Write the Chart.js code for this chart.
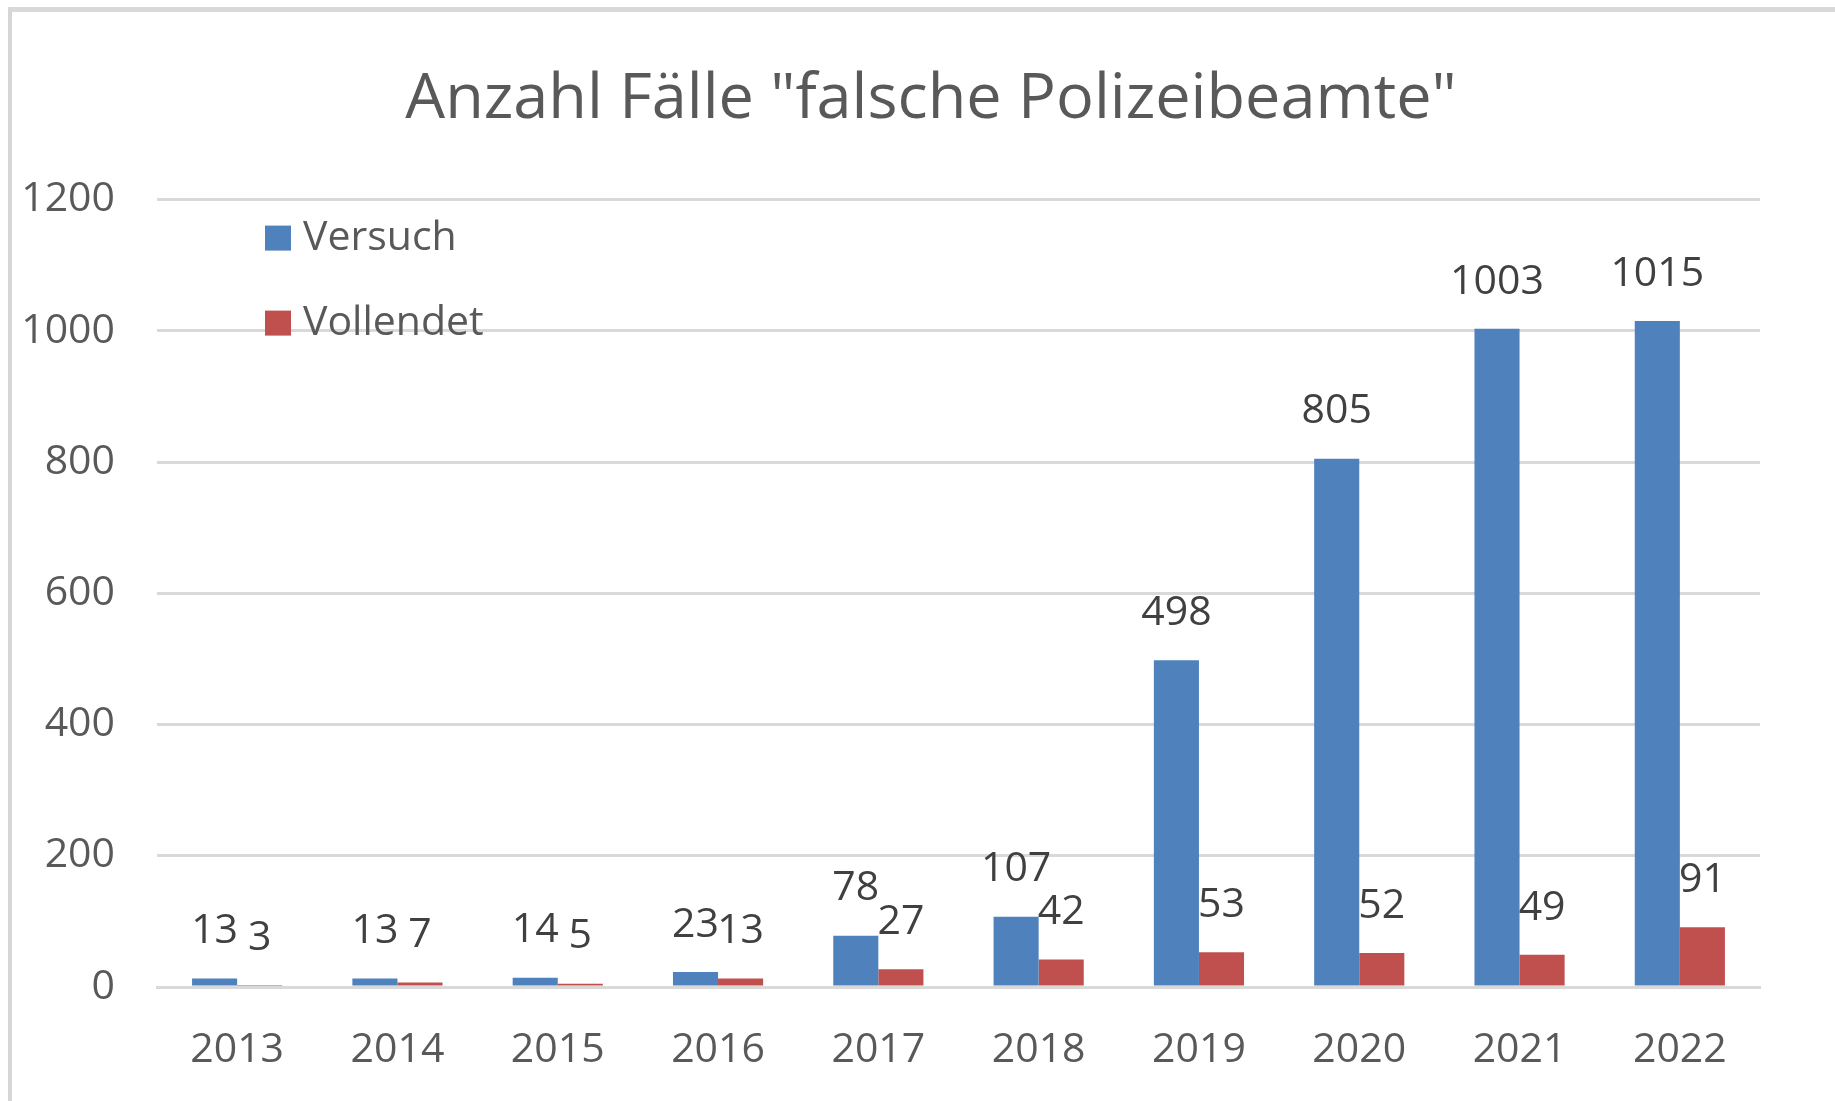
<!DOCTYPE html>
<html>
<head>
<meta charset="utf-8">
<script src="https://cdn.jsdelivr.net/npm/chart.js@4.4.0/dist/chart.umd.min.js"></script>
<style>
  html, body { margin: 0; padding: 0; background: #fff; }
  #wrap { position: relative; width: 1835px; height: 1101px; overflow: hidden; }
  #frame {
    position: absolute; left: 8px; top: 7px; width: 2000px; height: 1200px;
    border-left: 4px solid #d6d6d6; border-top: 5px solid #d9d9d9;
    pointer-events: none;
  }
  canvas { position: absolute; left: 0; top: 0; }
</style>
</head>
<body>
<div id="wrap">
  <canvas id="chart" width="1835" height="1101"></canvas>
  <div id="frame"></div>
</div>
<script>
const years = ["2013", "2014", "2015", "2016", "2017", "2018", "2019", "2020", "2021", "2022"];
const versuch = [13, 13, 14, 23, 78, 107, 498, 805, 1003, 1015];
const vollendet = [3, 7, 5, 13, 27, 42, 53, 52, 49, 91];
const yTicks = [0, 200, 400, 600, 800, 1000, 1200];

const FONT = "'Open Sans', 'Noto Sans', sans-serif";
const TEXT = "#595959";

// value labels above each bar
const valueLabels = {
  id: "valueLabels",
  afterDatasetsDraw(chart) {
    const ctx = chart.ctx;
    ctx.save();
    ctx.font = `41px ${FONT}`;
    ctx.fillStyle = "#404040";
    ctx.textAlign = "center";
    ctx.textBaseline = "middle";
    chart.data.datasets.forEach((ds, i) => {
      chart.getDatasetMeta(i).data.forEach((bar, j) => {
        ctx.fillText(String(ds.data[j]), bar.x, bar.y - 47);
      });
    });
    ctx.restore();
  },
};

// stacked legend inside the plot, top-left
const innerLegend = {
  id: "innerLegend",
  afterDraw(chart) {
    const ctx = chart.ctx;
    const area = chart.chartArea;
    ctx.save();
    ctx.font = `41px ${FONT}`;
    ctx.textBaseline = "middle";
    ctx.textAlign = "left";
    chart.data.datasets.forEach((ds, i) => {
      const y = area.top + 38 + i * 85;
      const x = area.left + 108;
      ctx.fillStyle = ds.backgroundColor;
      ctx.fillRect(x, y - 12, 26, 25);
      ctx.fillStyle = TEXT;
      ctx.fillText(ds.label, x + 38, y + 1);
    });
    ctx.restore();
  },
};

// centre the title over the plot rather than the whole canvas
const titleShift = {
  id: "titleShift",
  afterLayout(chart) {
    if (chart.titleBlock) {
      chart.titleBlock.left = 102;
    }
  },
};

new Chart(document.getElementById("chart"), {
  type: "bar",
  data: {
    labels: years,
    datasets: [
      { label: "Versuch", data: versuch, backgroundColor: "#4f81bd" },
      { label: "Vollendet", data: vollendet, backgroundColor: "#c0504d" },
    ],
  },
  options: {
    responsive: false,
    devicePixelRatio: 1,
    animation: false,
    categoryPercentage: 0.5625,
    barPercentage: 1.0,
    layout: { padding: { left: 0, right: 75, top: 0, bottom: 0 } },
    plugins: {
      legend: { display: false },
      tooltip: { enabled: false },
      title: {
        display: true,
        text: 'Anzahl Fälle "falsche Polizeibeamte"',
        color: TEXT,
        font: { family: FONT, size: 63, weight: "normal", lineHeight: 1.2 },
        padding: { top: 62, bottom: 62 },
      },
    },
    scales: {
      x: {
        afterFit: (scale) => {
          scale.height = 114;
        },
        grid: { display: false, drawTicks: false },
        border: { display: true, color: "#d9d9d9", width: 3 },
        ticks: { color: TEXT, font: { family: FONT, size: 41 }, padding: 39, maxRotation: 0 },
      },
      y: {
        min: 0,
        max: 1200,
        afterBuildTicks: (scale) => {
          scale.ticks = yTicks.map((v) => ({ value: v }));
        },
        afterFit: (scale) => {
          scale.width = 157;
        },
        grid: { color: "#d9d9d9", lineWidth: 3, drawTicks: false },
        border: { display: false },
        ticks: {
          color: TEXT,
          font: { family: FONT, size: 41 },
          padding: 42,
          callback: (v) => String(v),
        },
      },
    },
  },
  plugins: [valueLabels, innerLegend, titleShift],
});
</script>
</body>
</html>
